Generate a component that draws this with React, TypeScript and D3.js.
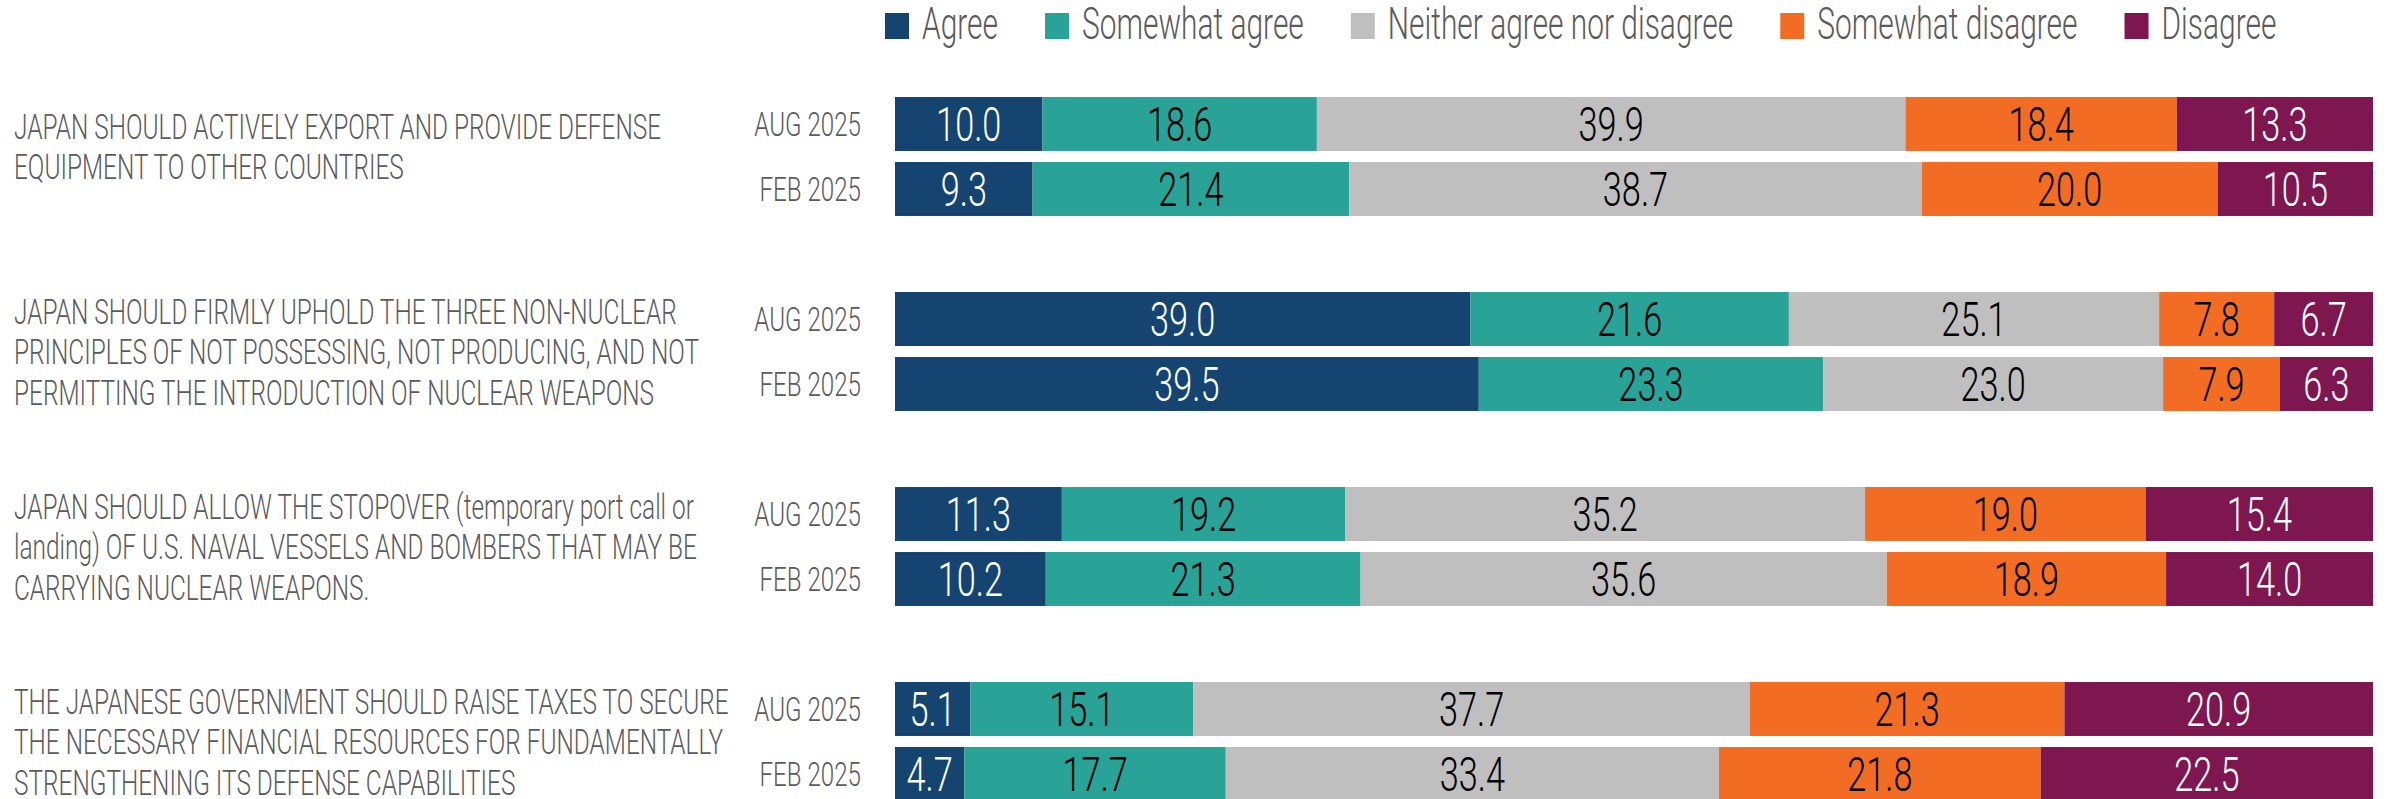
import React, { useEffect, useRef } from 'react'
import * as d3 from 'd3'

// question labels, already broken into lines as in the source chart
const questions = [
  ['JAPAN SHOULD ACTIVELY EXPORT AND PROVIDE DEFENSE', 'EQUIPMENT TO OTHER COUNTRIES'],
  ['JAPAN SHOULD FIRMLY UPHOLD THE THREE NON-NUCLEAR', 'PRINCIPLES OF NOT POSSESSING, NOT PRODUCING, AND NOT', 'PERMITTING THE INTRODUCTION OF NUCLEAR WEAPONS'],
  ['JAPAN SHOULD ALLOW THE STOPOVER (temporary port call or', 'landing) OF U.S. NAVAL VESSELS AND BOMBERS THAT MAY BE', 'CARRYING NUCLEAR WEAPONS.'],
  ['THE JAPANESE GOVERNMENT SHOULD RAISE TAXES TO SECURE', 'THE NECESSARY FINANCIAL RESOURCES FOR FUNDAMENTALLY', 'STRENGTHENING ITS DEFENSE CAPABILITIES'],
]
const periods = ['AUG 2025', 'FEB 2025']
const categories = ['Agree', 'Somewhat agree', 'Neither agree nor disagree', 'Somewhat disagree', 'Disagree']

// one value per bar: Q1 Aug, Q1 Feb, Q2 Aug, Q2 Feb, ...
const agree = [10.0, 9.3, 39.0, 39.5, 11.3, 10.2, 5.1, 4.7]
const somewhatAgree = [18.6, 21.4, 21.6, 23.3, 19.2, 21.3, 15.1, 17.7]
const neither = [39.9, 38.7, 25.1, 23.0, 35.2, 35.6, 37.7, 33.4]
const somewhatDisagree = [18.4, 20.0, 7.8, 7.9, 19.0, 18.9, 21.3, 21.8]
const disagree = [13.3, 10.5, 6.7, 6.3, 15.4, 14.0, 20.9, 22.5]

const colors = ['#14446f', '#29a397', '#bfbfbf', '#f36c24', '#7e1650']
const labelColors = ['#fff', '#000', '#000', '#000', '#fff']

const W = 2387
const H = 799
const FONT = 'Roboto, sans-serif'
const GREY = '#5b5b5b'

const App = () => {
  const ref = useRef<SVGSVGElement | null>(null)

  useEffect(() => {
    const svg = d3.select(ref.current)
    svg.selectAll('*').remove()

    const series = [agree, somewhatAgree, neither, somewhatDisagree, disagree]
    const rows = agree.map((_, i) => {
      const r: any = { key: `${Math.floor(i / 2)}-${i % 2}`, q: Math.floor(i / 2), p: i % 2 }
      categories.forEach((c, j) => { r[c] = series[j][i] })
      return r
    })

    // slots: two bars per question plus an empty slot between questions
    const slots: string[] = []
    questions.forEach((_, q) => {
      slots.push(`${q}-0`, `${q}-1`)
      if (q < questions.length - 1) slots.push(`gap-${q}`)
    })

    const y = d3.scaleBand()
      .domain(slots)
      .range([91.5, 91.5 + slots.length * 65])
      .paddingInner(0.17)
      .paddingOuter(0.085)

    const x = d3.scaleLinear().domain([0, 1]).range([895, 2373])

    const stacked = d3.stack<any>()
      .keys(categories)
      .offset(d3.stackOffsetExpand)(rows)

    // condensed text: scale horizontally around the anchor point
    const addText = (g: any, tx: number, ty: number, str: string, size: number, sx: number, fill: string, anchor: string, weight = 300) => {
      return g.append('g')
        .attr('transform', `translate(${tx},${ty})`)
        .append('text')
        .attr('transform', `scale(${sx},1)`)
        .attr('text-anchor', anchor)
        .attr('font-family', FONT)
        .attr('font-weight', weight)
        .attr('font-size', size)
        .attr('fill', fill)
        .text(str)
    }

    // bars
    const layers = svg.append('g')
      .selectAll('g')
      .data(stacked)
      .join('g')
      .attr('fill', (_, i) => colors[i])

    layers.selectAll('rect')
      .data((d) => d)
      .join('rect')
      .attr('x', (d) => x(d[0]))
      .attr('y', (d: any) => y(d.data.key)!)
      .attr('width', (d) => x(d[1]) - x(d[0]))
      .attr('height', y.bandwidth())

    // value labels
    const labels = svg.append('g')
    stacked.forEach((layer, li) => {
      layer.forEach((d: any) => {
        const cx = (x(d[0]) + x(d[1])) / 2
        const cy = y(d.data.key)! + y.bandwidth() / 2
        addText(labels, cx, cy + 17, d.data[categories[li]].toFixed(1), 49, 0.7, labelColors[li], 'middle')
      })
    })

    // period labels
    const per = svg.append('g')
    rows.forEach((r) => {
      const cy = y(r.key)! + y.bandwidth() / 2
      addText(per, 861, cy + 12, periods[r.p], 34, 0.71, GREY, 'end')
    })

    // question labels
    const ql = svg.append('g')
    const lh = 40.5
    questions.forEach((lines, q) => {
      const center = (y(`${q}-0`)! + y(`${q}-1`)! + y.bandwidth()) / 2
      const shift = ((3 - lines.length) * lh) / 4
      const first = center - ((lines.length - 1) * lh) / 2 + 12.5 - shift
      lines.forEach((line, k) => {
        addText(ql, 14, first + k * lh, line, 35, 0.697, GREY, 'start')
      })
    })

    // legend
    const leg = svg.append('g')
    let lx = 885
    const lsx = 0.68
    categories.forEach((c, i) => {
      leg.append('rect')
        .attr('x', lx)
        .attr('y', 13)
        .attr('width', 24)
        .attr('height', 26)
        .attr('fill', colors[i])
      const t = addText(leg, lx + 37, 39, c, 44, lsx, GREY, 'start')
      const w = (t.node() as SVGTextElement).getComputedTextLength() * lsx
      lx = lx + 37 + w + 47
    })
  }, [])

  return (
    <div style={{ position: 'absolute', left: 0, top: 0 }}>
      <svg ref={ref} width={W} height={H} style={{ display: 'block', background: '#fff' }} />
    </div>
  )
}

export default App
